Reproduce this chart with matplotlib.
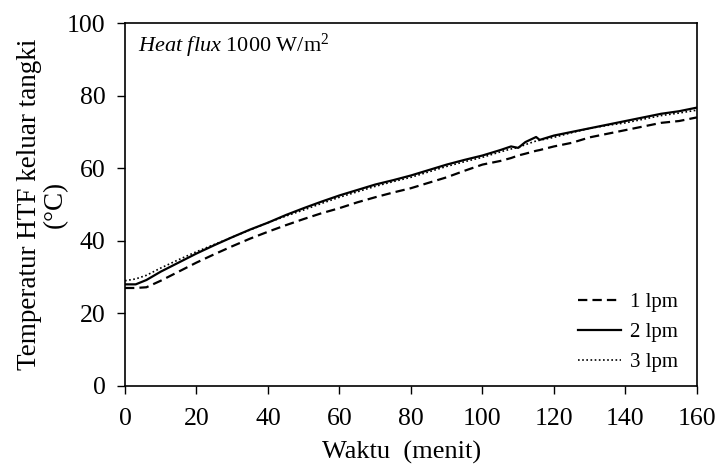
import numpy as np
from matplotlib import pyplot as plt

plt.rcParams['font.family'] = ['Liberation Serif', 'DejaVu Serif']
plt.rcParams['mathtext.fontset'] = 'custom'
plt.rcParams['mathtext.rm'] = 'Liberation Serif'
plt.rcParams['mathtext.it'] = 'Liberation Serif:italic'

# waktu (menit)
t = [0, 3, 6, 10, 15, 20, 25, 30, 35, 40, 45, 50, 55, 60, 65, 70, 75, 80, 85,
     90, 95, 100, 105, 108, 110, 112, 115, 116, 120, 125, 130, 135, 140, 145,
     150, 155, 160]

lpm1 = [27.0, 27.0, 27.2, 29.0, 31.5, 34.0, 36.3, 38.5, 40.6, 42.5, 44.3, 46.0,
        47.6, 49.0, 50.6, 52.0, 53.3, 54.5, 56.0, 57.5, 59.3, 61.0, 62.0, 62.8,
        63.5, 64.0, 64.8, 65.0, 66.0, 67.0, 68.5, 69.5, 70.5, 71.5, 72.5, 73.0,
        74.0]

lpm2 = [28.0, 28.0, 29.2, 31.5, 34.0, 36.5, 38.8, 41.0, 43.1, 45.0, 47.1, 49.0,
        50.8, 52.5, 54.0, 55.5, 56.7, 58.0, 59.5, 61.0, 62.3, 63.5, 65.0, 66.0,
        65.6, 67.2, 68.6, 67.8, 69.0, 70.0, 71.0, 72.0, 73.0, 74.0, 75.0, 75.7,
        76.7]

lpm3 = [29.0, 29.5, 30.5, 32.5, 34.8, 37.0, 39.0, 41.0, 43.0, 45.0, 46.8, 48.5,
        50.3, 52.0, 53.5, 55.0, 56.3, 57.5, 59.0, 60.5, 61.8, 63.0, 64.5, 65.3,
        65.7, 66.5, 67.5, 67.7, 68.5, 69.8, 71.0, 71.8, 72.5, 73.5, 74.5, 75.2,
        76.0]

fig = plt.figure(figsize=(7.2, 4.66), dpi=100)
ax = fig.add_axes([0.1736, 0.1717, 0.7944, 0.7789])

ax.plot(t, lpm1, color="black", linestyle=(0, (4.2, 2.3)), linewidth=1.6, label="1 lpm")
ax.plot(t, lpm2, color="black", linestyle="-", linewidth=1.6, label="2 lpm")
ax.plot(t, lpm3, color="black", linestyle=(0, (1, 1.5)), linewidth=1.2, label="3 lpm")

ax.set_xlim(0, 160)
ax.set_ylim(0, 100)
ax.set_xticks(np.arange(0, 161, 20))
ax.set_yticks(np.arange(0, 101, 20))
ax.tick_params(direction="out", length=6, labelsize=18.5, width=1)
ax.tick_params(axis="x", pad=10)
ax.tick_params(axis="y", pad=8)
for s in ax.spines.values():
    s.set_linewidth(1.2)

ax.set_xlabel("Waktu  (menit)", fontsize=19, labelpad=8)
ax.xaxis.label.set_x(0.484)
ax.set_ylabel("Temperatur HTF keluar tangki\n(°C)", fontsize=19.5, labelpad=-1,
              linespacing=1.05)

ax.text(0.022, 0.975, r"$\it{Heat\ flux}$ 1000 W/m$^{2}$", transform=ax.transAxes,
        fontsize=16, va="top", ha="left")

ax.legend(loc="lower right", bbox_to_anchor=(0.99, 0.0), frameon=False,
          fontsize=15, handlelength=2.1, handletextpad=0.4, labelspacing=0.5,
          borderaxespad=0.25)

fig.savefig("out.png", dpi=100)
